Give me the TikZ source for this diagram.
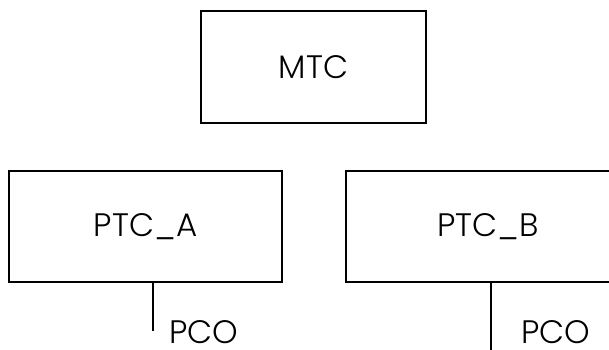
\documentclass[tikz,border=0pt]{standalone}
\usepackage{fontspec}
\setmainfont{Poppins Light}
\begin{document}
\begin{tikzpicture}[x=1pt,y=1pt,
  unitbox/.style={draw=black, line width=2pt, inner sep=0pt, font=\fontsize{32.5}{32.5}\selectfont},
  tag/.style={inner sep=0pt, font=\fontsize{32.5}{32.5}\selectfont},
  lead/.style={draw=black, line width=2pt}]
  \useasboundingbox (0,0) rectangle (609,349);
  \clip (0,0) rectangle (609,349);

  % controller hierarchy
  \node[unitbox, minimum width=225, minimum height=112] (mtc) at (313.5,282) {MTC};
  \node[unitbox, minimum width=273, minimum height=111] (ptca) at (145.5,122.5) {PTC\_A};
  \node[unitbox, minimum width=284, minimum height=111] (ptcb) at (488,122.5) {PTC\_B};

  % PCO leads hanging from each PTC
  \coordinate (enda) at (153,18);
  \coordinate (endb) at (491,-4);
  \draw[lead] (enda |- ptca.south) -- (enda);
  \draw[lead] (endb |- ptcb.south) -- (endb);

  \node[tag, anchor=base west] (pcoa) at (169,5.5) {PCO};
  \node[tag, anchor=base west] (pcob) at (521,5.5) {PCO};
\end{tikzpicture}
\end{document}
